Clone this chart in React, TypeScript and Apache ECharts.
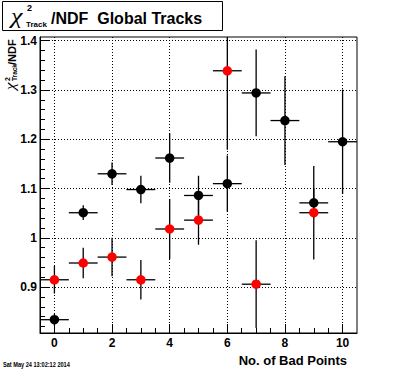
import React, { useEffect, useRef } from "react";
import * as echarts from "echarts";

// ---- data ----
const X_VALUES = [0, 1, 2, 3, 4, 5, 6, 7, 8, 9, 10];
const BLACK_Y = [0.834, 1.051, 1.13, 1.098, 1.162, 1.086, 1.11, 1.294, 1.238, 1.071, 1.195];
const BLACK_ERR = [0.012, 0.015, 0.023, 0.028, 0.05, 0.04, 0.057, 0.088, 0.09, 0.03, 0.106];
const RED_Y = [0.915, 0.949, 0.961, 0.915, 1.018, 1.036, 1.339, 0.906, null, 1.051, null];
const RED_ERR = [0.028, 0.031, 0.039, 0.04, 0.061, 0.05, 0.16, 0.089, null, 0.095, null];
const X_ERR = 0.5;

const X_MIN = -0.5;
const X_MAX = 10.5;
const Y_MIN = 0.807;
const Y_MAX = 1.4075;

const X_MAJOR = [0, 2, 4, 6, 8, 10];
const X_MINOR = [0.5, 1, 1.5, 2.5, 3, 3.5, 4.5, 5, 5.5, 6.5, 7, 7.5, 8.5, 9, 9.5];
const Y_MAJOR = [0.9, 1.0, 1.1, 1.2, 1.3, 1.4];
const Y_MINOR = [
  0.82, 0.84, 0.86, 0.88, 0.92, 0.94, 0.96, 0.98, 1.02, 1.04, 1.06, 1.08,
  1.12, 1.14, 1.16, 1.18, 1.22, 1.24, 1.26, 1.28, 1.32, 1.34, 1.36, 1.38,
];

const TITLE_TEXT = "/NDF  Global Tracks";
const X_TITLE = "No. of Bad Points";
const DATE_TEXT = "Sat May 24 13:02:12 2014";

const FONT = "Liberation Sans, Arial, Helvetica, sans-serif";
const SERIF = "'Liberation Serif', serif";

// text placed by its alphabetic baseline (approx. via 'middle' alignment)
function txt(text: string, x: number, baseline: number, size: number, weight: string, family: string, extra: any = {}) {
  const { align, ...rest } = extra;
  return {
    type: "text",
    x,
    y: baseline - 0.345 * size,
    ...rest,
    style: {
      text,
      font: `${weight} ${size}px ${family}`,
      fill: "#000",
      textAlign: align || "left",
      textVerticalAlign: "middle",
      verticalAlign: "middle",
      align: align || "left",
    },
  };
}

export default function App() {
  const ref = useRef<HTMLDivElement>(null);

  useEffect(() => {
    if (!ref.current) return;
    const chart = echarts.init(ref.current, null, { renderer: "svg" });

    const blackPts = X_VALUES.map((x, i) => [x, BLACK_Y[i]]);
    const redPts = X_VALUES.map((x, i) => [x, RED_Y[i]]).filter((p) => p[1] != null);
    const errData: number[][] = [];
    X_VALUES.forEach((x, i) => errData.push([x, BLACK_Y[i], BLACK_ERR[i]]));
    X_VALUES.forEach((x, i) => {
      if (RED_Y[i] != null) errData.push([x, RED_Y[i] as number, RED_ERR[i] as number]);
    });

    const fmt = (v: number) => String(Math.round(v * 10) / 10);

    const option: any = {
      animation: false,
      backgroundColor: "#fff",
      grid: {
        left: 40,
        right: 39,
        top: 37,
        bottom: 39,
        show: true,
        borderColor: "#000",
        borderWidth: 1,
        backgroundColor: "transparent",
        containLabel: false,
        outerBoundsMode: "none",
      },
      xAxis: [
        {
          type: "value",
          min: X_MIN,
          max: X_MAX,
          position: "bottom",
          axisLine: { show: true, onZero: false, lineStyle: { color: "#000", width: 1 } },
          axisTick: { show: true, inside: true, length: 9, customValues: X_MAJOR, lineStyle: { color: "#000", width: 1 } },
          axisLabel: {
            show: true,
            customValues: X_MAJOR,
            margin: 4,
            color: "#000",
            fontFamily: FONT,
            fontWeight: "bold",
            fontSize: 12,
            formatter: (v: number) => String(v),
          },
          splitLine: { show: true, lineStyle: { color: "#000", width: 1, type: [1, 2] } },
        },
        {
          type: "value",
          min: X_MIN,
          max: X_MAX,
          position: "bottom",
          axisLine: { show: false, onZero: false },
          axisTick: { show: true, inside: true, length: 5, customValues: X_MINOR, lineStyle: { color: "#000", width: 1 } },
          axisLabel: { show: false },
          splitLine: { show: false },
        },
      ],
      yAxis: [
        {
          type: "value",
          min: Y_MIN,
          max: Y_MAX,
          position: "left",
          axisLine: { show: true, onZero: false, lineStyle: { color: "#000", width: 1 } },
          axisTick: { show: true, inside: true, length: 10, customValues: Y_MAJOR, lineStyle: { color: "#000", width: 1 } },
          axisLabel: {
            show: true,
            customValues: Y_MAJOR,
            margin: 3,
            color: "#000",
            fontFamily: FONT,
            fontWeight: "bold",
            fontSize: 12,
            padding: [7, 0, 0, 0],
            formatter: fmt,
          },
          splitLine: { show: true, lineStyle: { color: "#000", width: 1, type: [1, 2] } },
        },
        {
          type: "value",
          min: Y_MIN,
          max: Y_MAX,
          position: "left",
          axisLine: { show: false, onZero: false },
          axisTick: { show: true, inside: true, length: 5, customValues: Y_MINOR, lineStyle: { color: "#000", width: 1 } },
          axisLabel: { show: false },
          splitLine: { show: false },
        },
      ],
      series: [
        {
          type: "custom",
          xAxisIndex: 0,
          yAxisIndex: 0,
          data: errData,
          z: 2,
          renderItem: (params: any, api: any) => {
            const x = api.value(0);
            const y = api.value(1);
            const e = api.value(2);
            const lo = Math.max(y - e, Y_MIN);
            const hi = Math.min(y + e, Y_MAX);
            const pL = api.coord([Math.max(x - X_ERR, X_MIN), y]);
            const pR = api.coord([Math.min(x + X_ERR, X_MAX), y]);
            const pB = api.coord([x, lo]);
            const pT = api.coord([x, hi]);
            const style = { stroke: "#000", lineWidth: 1.3 };
            return {
              type: "group",
              children: [
                { type: "line", shape: { x1: pL[0], y1: pL[1], x2: pR[0], y2: pR[1] }, style },
                { type: "line", shape: { x1: pB[0], y1: pB[1], x2: pT[0], y2: pT[1] }, style },
              ],
            };
          },
        },
        {
          type: "scatter",
          xAxisIndex: 0,
          yAxisIndex: 0,
          data: blackPts,
          symbol: "circle",
          symbolSize: 9.5,
          itemStyle: { color: "#000", opacity: 1 },
          z: 3,
        },
        {
          type: "scatter",
          xAxisIndex: 0,
          yAxisIndex: 0,
          data: redPts,
          symbol: "circle",
          symbolSize: 9.5,
          itemStyle: { color: "#ff0000", opacity: 1 },
          z: 4,
        },
      ],
      graphic: [
        // title box
        {
          type: "rect",
          shape: { x: 2.5, y: 1.5, width: 220, height: 29 },
          style: { fill: "#fff", stroke: "#000", lineWidth: 1 },
          z: 10,
        },
        { ...txt("χ", 11, 23, 20, "italic", SERIF, { scaleX: 1.3 }), z: 11 },
        { ...txt("2", 27, 11.5, 9, "bold", FONT), z: 11 },
        { ...txt("Track", 26, 27, 8, "bold", FONT), z: 11 },
        { ...txt(TITLE_TEXT, 51, 24, 16, "bold", FONT), z: 11 },
        // y axis title (rotated, reads bottom to top)
        {
          type: "group",
          x: 0,
          y: 90,
          rotation: Math.PI / 2,
          z: 11,
          children: [
            txt("χ", 0, 15, 14, "italic", SERIF, { scaleX: 1.2 }),
            txt("2", 9, 9.5, 7, "bold", FONT),
            txt("Track", 9, 16.5, 6.5, "bold", FONT),
            txt("/NDF", 25, 15.5, 11, "bold", FONT),
          ],
        },
        // x axis title
        { ...txt(X_TITLE, 347, 365, 13, "bold", FONT, { align: "right" }), z: 11 },
        // date stamp
        { ...txt(DATE_TEXT, 3, 367, 7, "bold", FONT, { scaleX: 0.8 }), z: 11 },
      ],
    };

    chart.setOption(option);
    return () => chart.dispose();
  }, []);

  return (
    <div
      ref={ref}
      style={{ position: "fixed", left: 0, top: 0, width: 396, height: 372, background: "#fff" }}
    />
  );
}
